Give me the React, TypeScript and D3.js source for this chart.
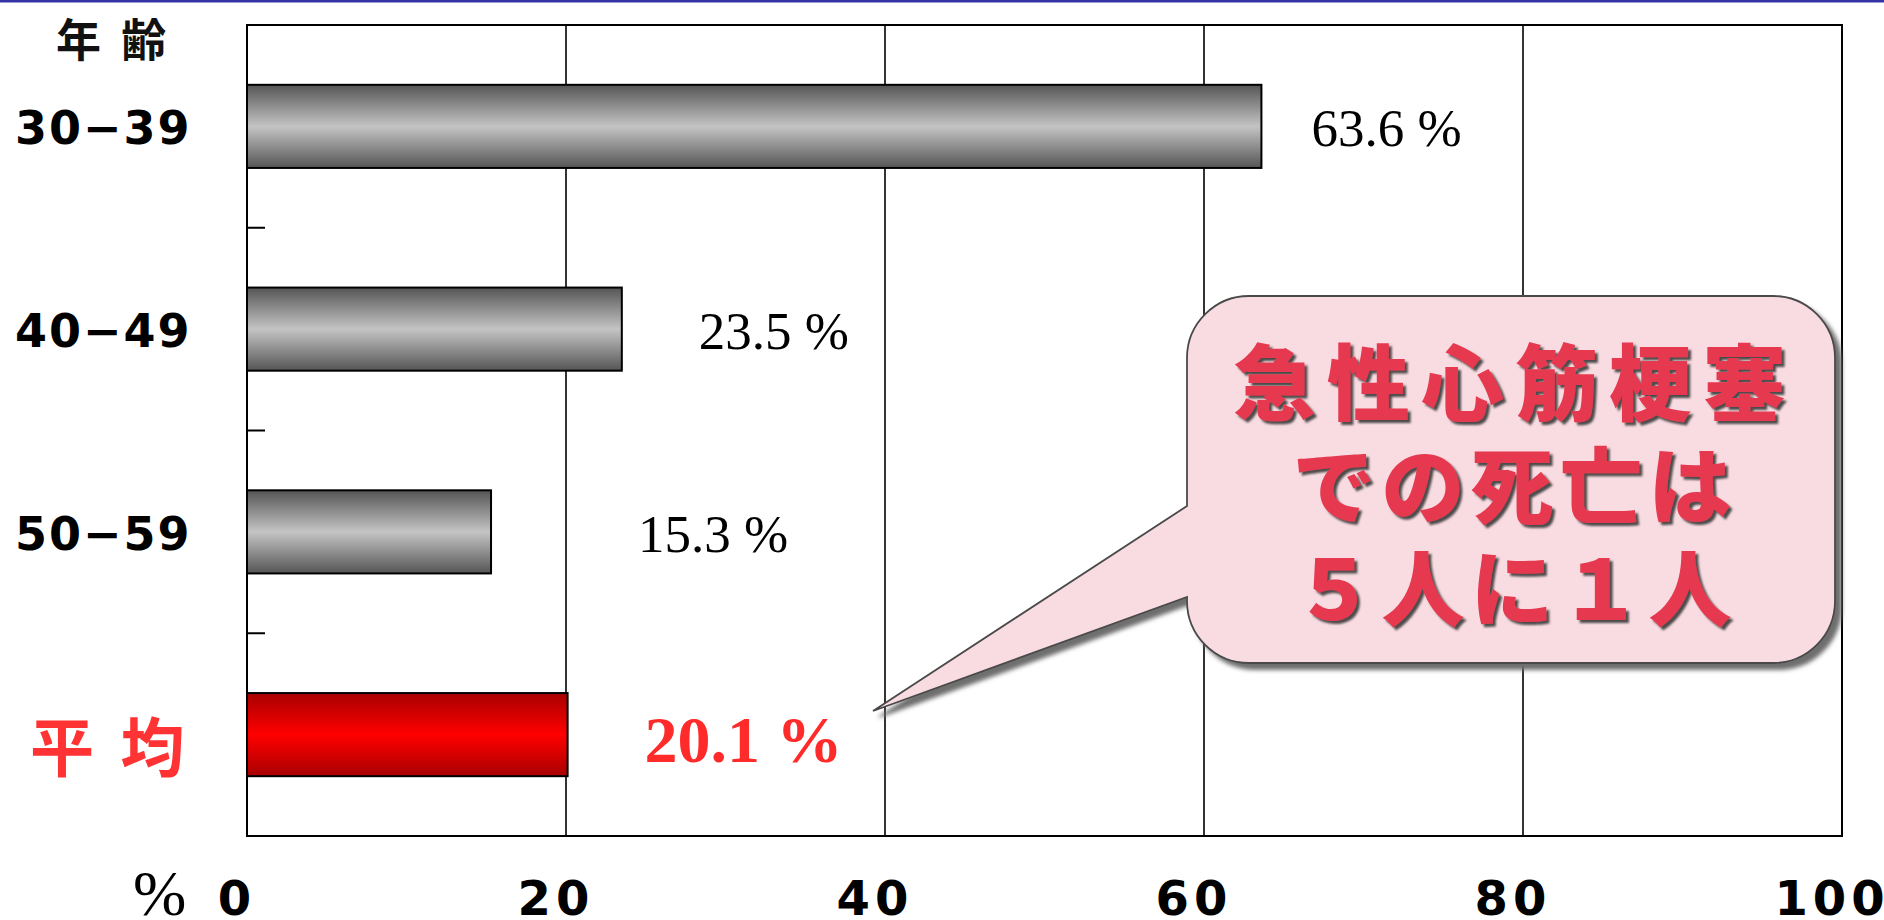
import React from "react";
import * as d3 from "d3";

const categories = ["30−39", "40−49", "50−59", "平 均"];
const values = [63.6, 23.5, 15.3, 20.1];
const valueLabels = ["63.6 %", "23.5 %", "15.3 %", "20.1 %"];
const xTicks = [0, 20, 40, 60, 80, 100];
const yTitle = "年 齢";
const bubbleLines = ["急性心筋梗塞", "での死亡は", "５人に１人"];

const W = 1884;
const H = 920;
const M = { left: 247, right: 1842, top: 25, bottom: 836 };
const labelOffsets = [50, 77, 147, 77];

export default function App() {
  const x = d3.scaleLinear().domain([0, 100]).range([M.left, M.right]);
  const y = d3.scaleBand<string>().domain(categories).range([M.top, M.bottom]).padding(0);
  const bh = y.bandwidth() * 0.41;
  const boundaries = categories.slice(1).map((c) => y(c) as number);

  // bubble geometry
  const bx0 = 1187, bx1 = 1835, by0 = 296, by1 = 663, r = 62;
  const tip = [873, 711];
  const p = d3.path();
  p.moveTo(bx0, 506);
  p.lineTo(bx0, by0 + r);
  p.arcTo(bx0, by0, bx0 + r, by0, r);
  p.lineTo(bx1 - r, by0);
  p.arcTo(bx1, by0, bx1, by0 + r, r);
  p.lineTo(bx1, by1 - r);
  p.arcTo(bx1, by1, bx1 - r, by1, r);
  p.lineTo(bx0 + r, by1);
  p.arcTo(bx0, by1, bx0, by1 - r, r);
  p.lineTo(bx0, 597);
  p.lineTo(tip[0], tip[1]);
  p.closePath();
  const bubblePath = p.toString();

  const lineCenters = [378, 481, 584];

  return (
    <svg
      width={W}
      height={H}
      style={{ position: "absolute", left: 0, top: 0, background: "#fff" }}
    >
      <defs>
        <linearGradient id="grayGrad" x1="0" y1="0" x2="0" y2="1">
          <stop offset="0%" stopColor="#555555" />
          <stop offset="50%" stopColor="#c4c4c4" />
          <stop offset="100%" stopColor="#555555" />
        </linearGradient>
        <linearGradient id="redGrad" x1="0" y1="0" x2="0" y2="1">
          <stop offset="0%" stopColor="#a80000" />
          <stop offset="50%" stopColor="#ff0000" />
          <stop offset="100%" stopColor="#a80000" />
        </linearGradient>
        <filter id="bubbleShadow" x="-10%" y="-10%" width="130%" height="130%">
          <feDropShadow dx="6" dy="6" stdDeviation="2" floodColor="#6e6e6e" floodOpacity="1" />
        </filter>
        <filter id="textShadow" x="-5%" y="-5%" width="115%" height="130%">
          <feDropShadow dx="3" dy="3" stdDeviation="0.8" floodColor="#3a3a3a" floodOpacity="0.9" />
        </filter>
      </defs>

      <rect x={0} y={0} width={W} height={2.5} fill="#3434a8" />

      {/* gridlines */}
      {xTicks.slice(1, -1).map((t) => (
        <line key={t} x1={x(t)} x2={x(t)} y1={M.top} y2={M.bottom} stroke="#000" strokeWidth={1.6} />
      ))}
      {/* frame */}
      <rect x={M.left} y={M.top} width={M.right - M.left} height={M.bottom - M.top} fill="none" stroke="#000" strokeWidth={2} />
      {/* ticks at category boundaries */}
      {boundaries.map((b, i) => (
        <line key={i} x1={M.left} x2={M.left + 18} y1={b} y2={b} stroke="#000" strokeWidth={2} />
      ))}

      {/* bars */}
      {categories.map((c, i) => {
        const cy = (y(c) as number) + y.bandwidth() / 2;
        return (
          <rect
            key={c}
            x={x(0)}
            y={cy - bh / 2}
            width={x(values[i]) - x(0)}
            height={bh}
            fill={i === 3 ? "url(#redGrad)" : "url(#grayGrad)"}
            stroke="#000"
            strokeWidth={2}
          />
        );
      })}

      {/* value labels */}
      {categories.map((c, i) => {
        const cy = (y(c) as number) + y.bandwidth() / 2;
        const red = i === 3;
        return (
          <text
            key={c}
            x={x(values[i]) + labelOffsets[i]}
            y={cy + (red ? 27 : 20)}
            fontFamily="'Liberation Serif', 'Times New Roman', serif"
            fontSize={red ? 66 : 53}
            fontWeight={red ? "bold" : "normal"}
            fill={red ? "#ff2b2b" : "#000"}
          >
            {valueLabels[i]}
          </text>
        );
      })}

      {/* category labels */}
      {categories.map((c, i) => {
        const cy = (y(c) as number) + y.bandwidth() / 2;
        const red = i === 3;
        return red ? (
          <text
            key={c}
            x={30}
            y={cy + 8}
            dominantBaseline="central"
            fontFamily="'Noto Sans CJK JP', sans-serif"
            fontSize={64}
            fontWeight="bold"
            letterSpacing={6}
            fill="#ff3333"
          >
            {c}
          </text>
        ) : (
          <text
            key={c}
            x={15}
            y={cy + 18}
            fontFamily="'DejaVu Sans', sans-serif"
            fontSize={46}
            fontWeight="bold"
            letterSpacing={2}
            fill="#000"
          >
            {c}
          </text>
        );
      })}

      {/* y title */}
      <text
        x={56}
        y={37}
        dominantBaseline="central"
        fontFamily="'Noto Sans CJK JP', sans-serif"
        fontSize={45}
        fontWeight="bold"
        letterSpacing={5}
        fill="#111"
      >
        {yTitle}
      </text>

      {/* x tick labels */}
      {xTicks.map((t) => (
        <text
          key={t}
          x={x(t) - 10}
          y={915}
          textAnchor="middle"
          fontFamily="'DejaVu Sans', sans-serif"
          fontSize={48}
          fontWeight="bold"
          letterSpacing={5}
          fill="#000"
        >
          {String(t)}
        </text>
      ))}
      <text
        x={133}
        y={915}
        fontFamily="'Liberation Serif', 'Times New Roman', serif"
        fontSize={64}
        fill="#000"
      >
        %
      </text>

      {/* bubble */}
      <path d={bubblePath} fill="#f9dce1" stroke="#4a4a4a" strokeWidth={1.8} filter="url(#bubbleShadow)" />
      <g filter="url(#textShadow)">
        {bubbleLines.map((ln, i) => (
          <text
            key={i}
            x={(bx0 + bx1) / 2 + 4}
            y={lineCenters[i]}
            textAnchor="middle"
            dominantBaseline="central"
            fontFamily="'Noto Sans CJK JP', sans-serif"
            fontSize={83}
            fontWeight={900}
            letterSpacing={i === 0 ? 11 : 6}
            fill="#e63950"
          >
            {ln}
          </text>
        ))}
      </g>
    </svg>
  );
}
